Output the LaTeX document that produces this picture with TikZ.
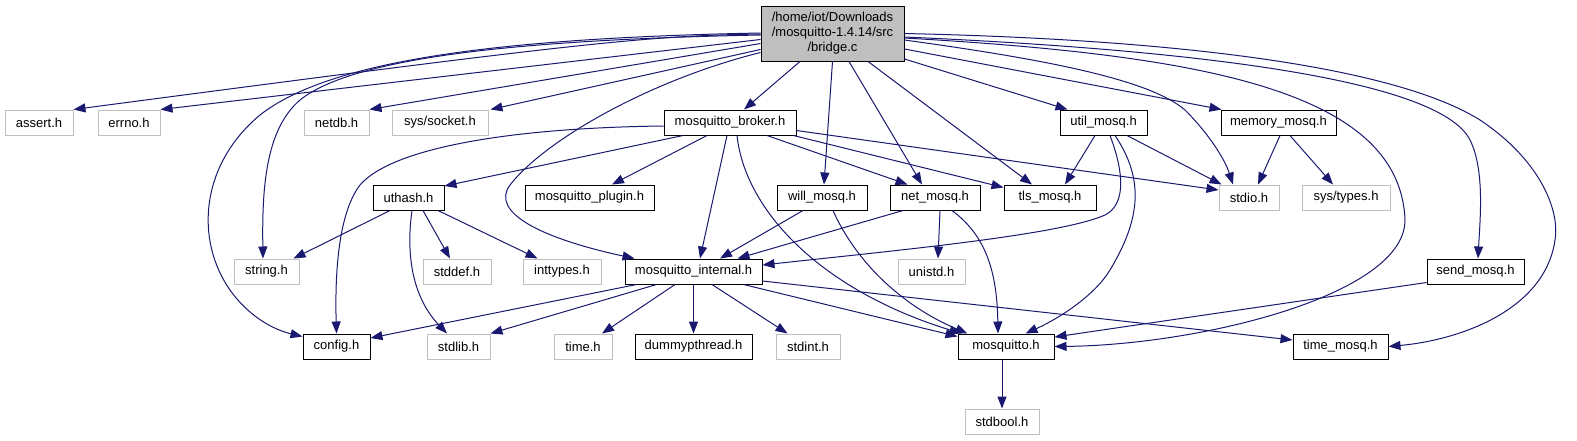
\documentclass[tikz,border=0pt]{standalone}
\usepackage{fontspec}
\setmainfont{Liberation Sans}
\usetikzlibrary{arrows.meta,calc}
\definecolor{edgec}{HTML}{191970}
\definecolor{greyv}{HTML}{BFBFBF}
\tikzset{
  doc/.style={draw=black, line width=1pt, fill=white, inner sep=0pt, minimum height=25pt,
    font=\fontsize{13}{15}\selectfont, text=black},
  ext/.style={doc, draw=greyv},
  edge/.style={draw=edgec, line width=1pt, -{Triangle[length=12pt,width=9pt]}},
}
\begin{document}
\begin{tikzpicture}[x=1pt,y=-1pt]
\useasboundingbox (0,0) rectangle (1577,440);
\fill[white] (0,0) rectangle (1577,440);
% nodes
\node[doc, fill=greyv, minimum width=143pt, minimum height=55pt, align=center] (bridge) at (832.5,33.5) {/home/iot/Downloads\\/mosquitto-1.4.14/src\\/bridge.c};
\node[ext, minimum width=68pt] (assert) at (39,122.5) {assert.h};
\node[ext, minimum width=62pt] (errno) at (129,122.5) {errno.h};
\node[ext, minimum width=65pt] (netdb) at (336.5,122.5) {netdb.h};
\node[ext, minimum width=96pt] (syssocket) at (440,122.5) {sys/socket.h};
\node[doc, minimum width=132pt] (broker) at (730,122.5) {mosquitto\_broker.h};
\node[doc, minimum width=87pt] (util) at (1103.5,122.5) {util\_mosq.h};
\node[doc, minimum width=115pt] (memory) at (1278.5,122.5) {memory\_mosq.h};
\node[doc, minimum width=71pt] (uthash) at (408.5,197.5) {uthash.h};
\node[doc, minimum width=129pt] (plugin) at (589.5,197.5) {mosquitto\_plugin.h};
\node[doc, minimum width=90pt] (will) at (822,197.5) {will\_mosq.h};
\node[doc, minimum width=90pt] (net) at (935,197.5) {net\_mosq.h};
\node[doc, minimum width=92pt] (tls) at (1050,197.5) {tls\_mosq.h};
\node[ext, minimum width=60pt] (stdio) at (1249,197.5) {stdio.h};
\node[ext, minimum width=88pt] (systypes) at (1346,197.5) {sys/types.h};
\node[ext, minimum width=65pt] (string) at (266.5,271.5) {string.h};
\node[ext, minimum width=68pt] (stddef) at (457,271.5) {stddef.h};
\node[ext, minimum width=78pt] (inttypes) at (562,271.5) {inttypes.h};
\node[doc, minimum width=137pt] (internal) at (693.5,271.5) {mosquitto\_internal.h};
\node[ext, minimum width=67pt] (unistd) at (931.5,271.5) {unistd.h};
\node[doc, minimum width=97pt] (send) at (1475.5,271.5) {send\_mosq.h};
\node[doc, minimum width=67pt] (config) at (336.5,346.5) {config.h};
\node[ext, minimum width=63pt] (stdlib) at (458.5,346.5) {stdlib.h};
\node[ext, minimum width=58pt] (time) at (583,346.5) {time.h};
\node[doc, minimum width=117pt] (dummy) at (693.5,346.5) {dummypthread.h};
\node[ext, minimum width=64pt] (stdint) at (808,346.5) {stdint.h};
\node[doc, minimum width=96pt] (mosquitto) at (1006,346.5) {mosquitto.h};
\node[doc, minimum width=95pt] (timemosq) at (1340.5,346.5) {time\_mosq.h};
\node[ext, minimum width=74pt] (stdbool) at (1002,421.5) {stdbool.h};
% bridge.c
\draw[edge] ($(bridge.west)+(0,0.5)$) .. controls (650,36) and (600,40) .. (assert.north east);
\draw[edge] ($(bridge.west)+(0,6)$) -- (errno.north east);
\draw[edge] ($(bridge.west)+(0,10)$) -- (netdb.north east);
\draw[edge] ($(bridge.west)+(0,16)$) -- ($(syssocket.north east)+(2,0)$);
\draw[edge] ($(bridge.west)+(0,1.5)$) .. controls (500,40) and (350,60) .. (300,100) .. controls (265,130) and (262,190) .. ($(string.north)+(-3.5,0)$);
\draw[edge] ($(bridge.west)+(0,-0.5)$) .. controls (500,38) and (330,60) .. (260,115) .. controls (200,165) and (195,240) .. (230,290) .. controls (250,318) and (275,330) .. ($(config.north west)+(0,3)$);
\draw[edge] ($(bridge.south west)+(0,-9)$) .. controls (650,80) and (545,140) .. (510,185) .. controls (490,212) and (540,238) .. ($(internal.north west)+(10,0)$);
\draw[edge] ($(bridge.south)+(-32.5,0)$) -- ($(broker.north)+(14,0)$);
\draw[edge] (bridge.south) -- ($(will.north)+(2,0)$);
\draw[edge] ($(bridge.south)+(16.5,0)$) -- ($(net.north)+(-13,0)$);
\draw[edge] ($(bridge.south)+(35.5,0)$) -- ($(tls.north)+(-18,0)$);
\draw[edge] ($(bridge.east)+(0,25.5)$) -- ($(util.north west)+(8,0)$);
\draw[edge] ($(bridge.east)+(0,15.5)$) -- ($(memory.north west)+(1,0)$);
\draw[edge] ($(bridge.east)+(0,6.5)$) .. controls (1050,60) and (1150,80) .. (1185,110) .. controls (1210,135) and (1225,160) .. ($(stdio.north)+(-16,0)$);
\draw[edge] ($(bridge.east)+(0,4.5)$) .. controls (1200,55) and (1400,90) .. (1405,220) .. controls (1405,295) and (1200,345) .. (mosquitto.east);
\draw[edge] ($(bridge.east)+(0,3.5)$) .. controls (1200,50) and (1440,80) .. (1470,140) .. controls (1485,170) and (1480,220) .. ($(send.north)+(2.5,0)$);
\draw[edge] (bridge.east) .. controls (1200,40) and (1400,70) .. (1480,120) .. controls (1540,160) and (1560,210) .. (1555,240) .. controls (1545,310) and (1460,340) .. (timemosq.east);
% broker
\draw[edge] ($(broker.west)+(0,3.5)$) .. controls (500,128) and (390,150) .. (360,185) .. controls (337,215) and (335,280) .. (config.north);
\draw[edge] ($(broker.south)+(-47,0)$) -- ($(uthash.north east)+(0,1.5)$);
\draw[edge] ($(broker.south)+(-23,0)$) -- ($(plugin.north)+(22.5,0)$);
\draw[edge] ($(broker.south)+(-3,0)$) -- ($(internal.north)+(6.5,0)$);
\draw[edge] ($(broker.south)+(7,0)$) .. controls (745,210) and (820,290) .. ($(mosquitto.north west)+(4,0)$);
\draw[edge] ($(broker.south)+(37,0)$) -- ($(net.north west)+(18,0)$);
\draw[edge] ($(broker.south east)+(-3,0)$) -- ($(tls.north west)+(0,3)$);
\draw[edge] ($(broker.east)+(0,8)$) -- ($(stdio.west)+(0,-7.5)$);
% uthash
\draw[edge] ($(uthash.south)+(-18.5,0)$) -- ($(string.north east)+(-6,0)$);
\draw[edge] ($(uthash.south)+(14.5,0)$) -- ($(stddef.north)+(-7,0)$);
\draw[edge] ($(uthash.south)+(29.5,0)$) -- ($(inttypes.north west)+(15,0)$);
\draw[edge] ($(uthash.south)+(3.5,0)$) .. controls (405,260) and (415,300) .. ($(stdlib.north)+(-11.5,0)$);
% will
\draw[edge] ($(will.south)+(-19,0)$) -- ($(internal.north)+(26.5,0)$);
\draw[edge] ($(will.south)+(11,0)$) .. controls (855,260) and (900,305) .. ($(mosquitto.north west)+(10,0)$);
% net
\draw[edge] ($(net.south)+(-32,0)$) -- ($(internal.north east)+(-25,0)$);
\draw[edge] ($(net.south)+(5,0)$) -- ($(unistd.north)+(6.5,0)$);
\draw[edge] ($(net.south)+(17,0)$) .. controls (985,235) and (997,270) .. ($(mosquitto.north)+(-8,0)$);
% util
\draw[edge] ($(util.south)+(-8.5,0)$) -- ($(tls.north)+(15,0)$);
\draw[edge] ($(util.south)+(23.5,0)$) -- ($(stdio.north west)+(3,0)$);
\draw[edge] ($(util.south)+(6.5,0)$) .. controls (1125,175) and (1125,205) .. (1105,215) .. controls (1060,235) and (900,250) .. ($(internal.east)+(0,-6.5)$);
\draw[edge] ($(util.south)+(11.5,0)$) .. controls (1145,180) and (1140,220) .. (1110,270) .. controls (1095,295) and (1060,318) .. ($(mosquitto.north east)+(-29,0)$);
% memory
\draw[edge] ($(memory.south)+(1.5,0)$) -- ($(stdio.north)+(9,0)$);
\draw[edge] ($(memory.south)+(11.5,0)$) -- ($(systypes.north)+(-13,0)$);
% internal
\draw[edge] ($(internal.south west)+(12,0)$) -- ($(config.east)+(0,-8.5)$);
\draw[edge] ($(internal.south west)+(32,0)$) -- (stdlib.north east);
\draw[edge] ($(internal.south)+(-18.5,0)$) -- ($(time.north)+(19,0)$);
\draw[edge] (internal.south) -- (dummy.north);
\draw[edge] ($(internal.south)+(18.5,0)$) -- ($(stdint.north west)+(12,0)$);
\draw[edge] ($(internal.south east)+(-19,0)$) -- ($(mosquitto.north west)+(0,3)$);
\draw[edge] ($(internal.east)+(0,9.5)$) -- ($(timemosq.west)+(0,-6.5)$);
% send
\draw[edge] ($(send.south west)+(0,-2)$) -- ($(mosquitto.east)+(0,-9.5)$);
% mosquitto
\draw[edge] ($(mosquitto.south)+(-4,0)$) -- (stdbool.north);
\end{tikzpicture}
\end{document}
